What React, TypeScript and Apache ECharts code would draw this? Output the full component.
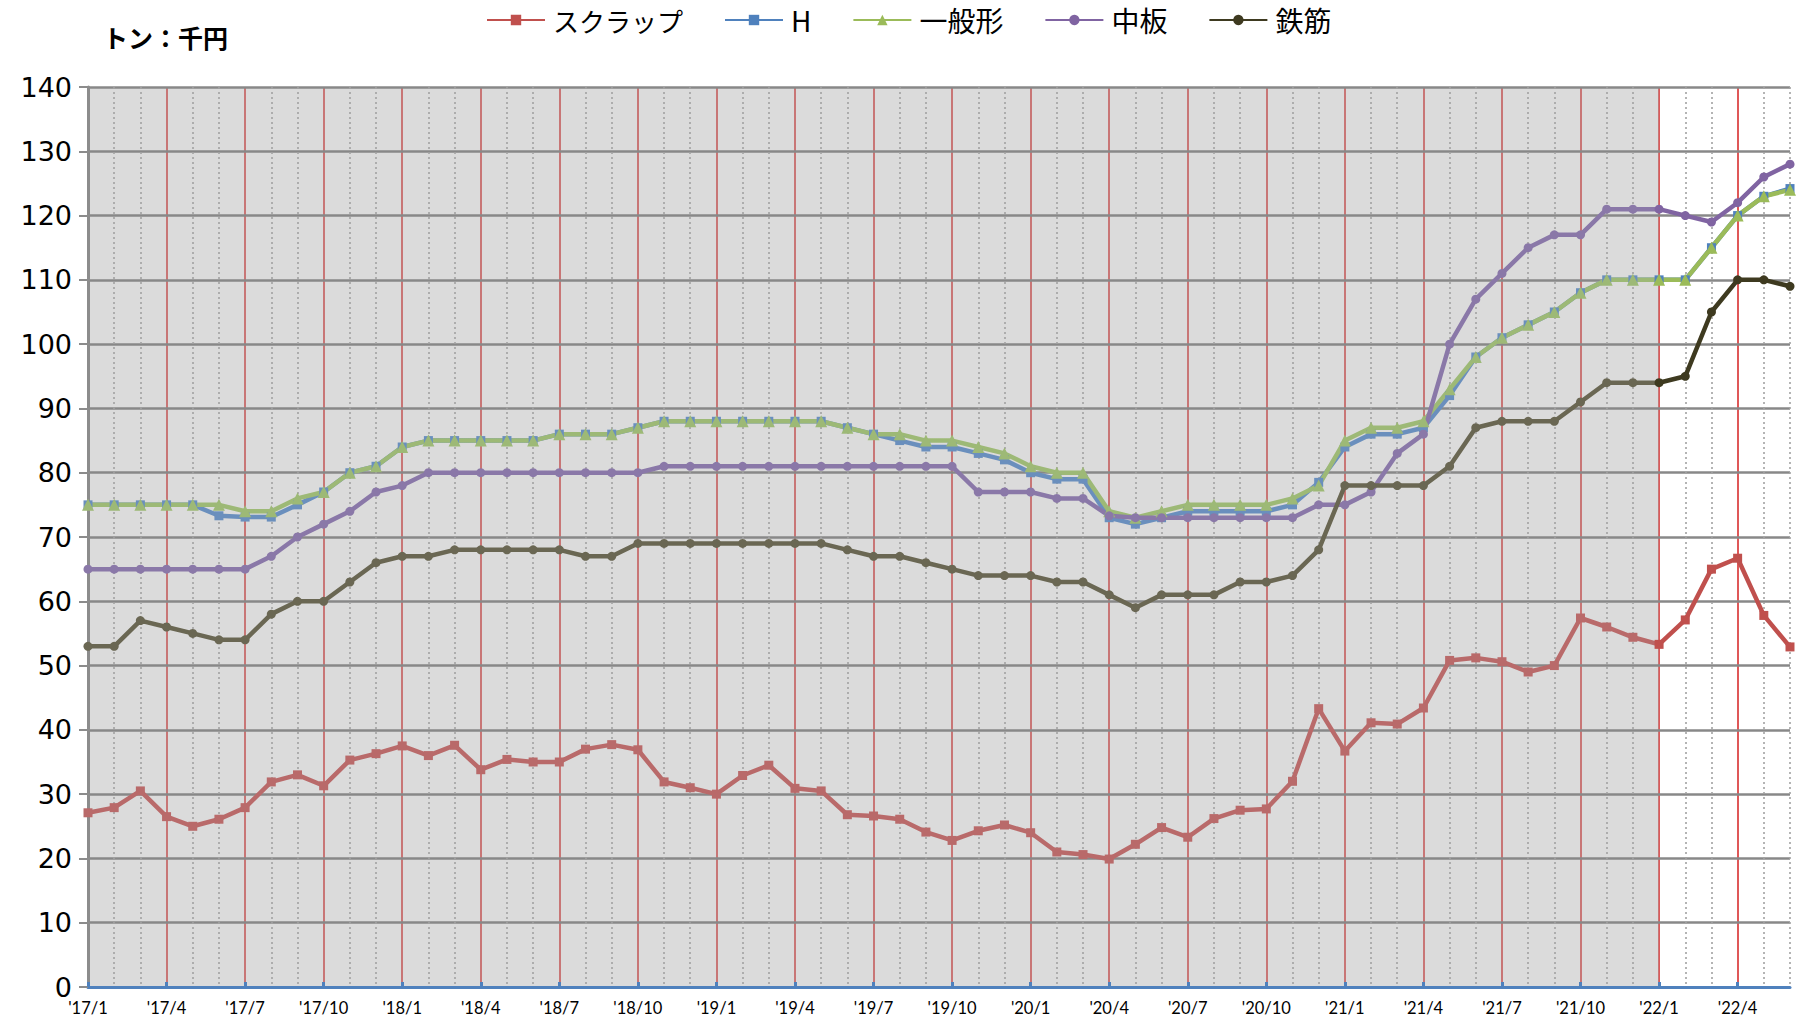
import React, { useEffect, useRef } from "react";
import * as echarts from "echarts";

const years = ["17", "18", "19", "20", "21", "22"];
const months: string[] = [];
for (const y of years) {
  for (let m = 1; m <= 12; m++) {
    if (y === "22" && m > 6) break;
    months.push("'" + y + "/" + m);
  }
}

const seriesNames = ["スクラップ", "H", "一般形", "中板", "鉄筋"];

const scrap = [
  27.1, 27.9, 30.5, 26.5, 25.0, 26.1, 27.9, 31.9, 33.0, 31.3,
  35.3, 36.3, 37.5, 36.0, 37.6, 33.8, 35.4, 35.0, 35.0, 37.0,
  37.7, 36.9, 31.9, 31.0, 30.0, 32.9, 34.5, 30.9, 30.5, 26.8,
  26.6, 26.1, 24.1, 22.8, 24.3, 25.2, 24.0, 21.0, 20.6, 19.9,
  22.2, 24.8, 23.3, 26.2, 27.5, 27.7, 32.0, 43.3, 36.7, 41.1,
  40.9, 43.4, 50.8, 51.2, 50.6, 49.0, 50.0, 57.4, 56.0, 54.4,
  53.3, 57.1, 65.0, 66.7, 57.8, 52.9,
];

const hBeam = [
  75, 75, 75, 75, 75, 73.3, 73.1, 73.1, 75, 77,
  80, 81, 84, 85, 85, 85, 85, 85, 86, 86,
  86, 87, 88, 88, 88, 88, 88, 88, 88, 87,
  86, 85, 84, 84, 83, 82, 80, 79, 79, 73,
  72, 73, 74, 74, 74, 74, 75, 78.5, 84, 86,
  86, 87, 92, 98, 101, 103, 105, 108, 110, 110,
  110, 110, 115, 120, 123, 124.2,
];

const general = [
  75, 75, 75, 75, 75, 75, 74, 74, 76, 77,
  80, 81, 84, 85, 85, 85, 85, 85, 86, 86,
  86, 87, 88, 88, 88, 88, 88, 88, 88, 87,
  86, 86, 85, 85, 84, 83, 81, 80, 80, 74,
  73, 74, 75, 75, 75, 75, 76, 78, 85, 87,
  87, 88, 93, 98, 101, 103, 105, 108, 110, 110,
  110, 110, 115, 120, 123, 124,
];

const plate = [
  65, 65, 65, 65, 65, 65, 65, 67, 70, 72,
  74, 77, 78, 80, 80, 80, 80, 80, 80, 80,
  80, 80, 81, 81, 81, 81, 81, 81, 81, 81,
  81, 81, 81, 81, 77, 77, 77, 76, 76, 73.3,
  73, 73, 73, 73, 73, 73, 73, 75, 75, 77,
  83, 86, 100, 107, 111, 115, 117, 117, 121, 121,
  121, 120, 119, 122, 126, 128,
];

const rebar = [
  53, 53, 57, 56, 55, 54, 54, 58, 60, 60,
  63, 66, 67, 67, 68, 68, 68, 68, 68, 67,
  67, 69, 69, 69, 69, 69, 69, 69, 69, 68,
  67, 67, 66, 65, 64, 64, 64, 63, 63, 61,
  59, 61, 61, 61, 63, 63, 64, 68, 78, 78,
  78, 78, 81, 87, 88, 88, 88, 91, 94, 94,
  94, 95, 105, 110, 110, 109,
];

const yTicks = { min: 0, max: 140, interval: 10 };
const shadeEndIndex = 60; // '22/1

const baseColors = ["#C0504D", "#4F81BD", "#9BBB59", "#8064A2", "#3E3A20"];
const fadedColors = ["#b96a6a", "#6a8fbd", "#9db976", "#8a78a8", "#6a6753"];
const symbols = ["rect", "rect", "triangle", "circle", "circle"];
const symbolSizes = [9, 9, 12, 9, 9];

export default function App() {
  const ref = useRef<HTMLDivElement>(null);
  useEffect(() => {
    if (!ref.current) return;
    const chart = echarts.init(ref.current, null, { renderer: "svg" });
    const allData = [scrap, hBeam, general, plate, rebar];
    const lastIndex = months.length - 1;
    const series: any[] = allData.map((d, i) => ({
      name: seriesNames[i],
      type: "line",
      data: d,
      color: baseColors[i],
      symbol: symbols[i],
      symbolSize: symbolSizes[i],
      showSymbol: true,
      lineStyle: { width: 4.5 },
      z: 3,
      ...(i === 0
        ? {
            markArea: {
              silent: true,
              itemStyle: { color: "rgba(165,165,165,0.40)" },
              data: [[{ xAxis: months[0] }, { xAxis: months[shadeEndIndex] }]],
            },
          }
        : {}),
    }));

    chart.setOption({
      animation: false,
      backgroundColor: "#ffffff",
      title: {
        text: "トン：千円",
        left: 98,
        top: 19,
        textStyle: {
          fontFamily: "Noto Sans CJK JP",
          fontSize: 25,
          fontWeight: "bold",
          color: "#000",
        },
      },
      legend: {
        data: seriesNames,
        left: 486,
        top: 6,
        padding: 0,
        itemWidth: 58,
        itemHeight: 13,
        itemGap: 41,
        formatter: (name: string) =>
          name === "スクラップ" ? "{k|" + name + "}" : "{c|" + name + "}",
        textStyle: {
          fontFamily: "Noto Sans CJK JP",
          color: "#000",
          rich: {
            k: {
              fontFamily: "Noto Sans CJK JP",
              fontSize: 26,
              lineHeight: 34,
              color: "#000",
              padding: [0, 0, 0, 3],
            },
            c: {
              fontFamily: "Noto Sans CJK JP",
              fontSize: 28,
              lineHeight: 34,
              color: "#000",
              padding: [0, 0, 0, 3],
            },
          },
        },
      },
      visualMap: allData.map((_, i) => ({
        show: false,
        type: "piecewise",
        seriesIndex: i,
        dimension: 0,
        pieces: [
          { gte: 0, lt: shadeEndIndex, color: fadedColors[i] },
          { gte: shadeEndIndex, lte: lastIndex, color: baseColors[i] },
        ],
      })),
      grid: { left: 88, right: 10, top: 87, bottom: 32, containLabel: false },
      xAxis: [
        {
          type: "category",
          data: months,
          boundaryGap: false,
          z: 2,
          axisLine: { show: true, lineStyle: { color: "#4F81BD", width: 3 } },
          axisTick: {
            show: true,
            inside: true,
            interval: 2,
            length: 5,
            lineStyle: { color: "#4F81BD", width: 3 },
          },
          axisLabel: {
            interval: 2,
            margin: 12,
            fontFamily: "Lato",
            fontSize: 16.5,
            color: "#000",
          },
          splitLine: {
            show: true,
            interval: (index: number) => index % 3 !== 0,
            lineStyle: { color: "#a2a2a2", width: 1.6, type: [2, 3] },
          },
        },
        {
          type: "category",
          data: months,
          boundaryGap: false,
          position: "top",
          z: 0,
          axisLine: { show: false },
          axisTick: { show: false },
          axisLabel: { show: false },
          splitLine: {
            show: true,
            interval: (index: number) => index % 3 === 0 && index > 0,
            lineStyle: { color: "#D42020", width: 1.5 },
          },
        },
      ],
      yAxis: {
        type: "value",
        min: yTicks.min,
        max: yTicks.max,
        interval: yTicks.interval,
        z: 2,
        axisLine: { show: true, lineStyle: { color: "#8c8c8c", width: 3 } },
        axisTick: { show: true, length: 9, lineStyle: { color: "#8c8c8c", width: 2 } },
        axisLabel: {
          margin: 16,
          fontFamily: "DejaVu Sans",
          fontSize: 27,
          color: "#000",
        },
        splitLine: { show: true, lineStyle: { color: "#888888", width: 2.5 } },
      },
      series,
    });
    return () => chart.dispose();
  }, []);
  return (
    <div
      ref={ref}
      style={{ position: "fixed", left: 0, top: 0, width: 1800, height: 1019 }}
    />
  );
}
